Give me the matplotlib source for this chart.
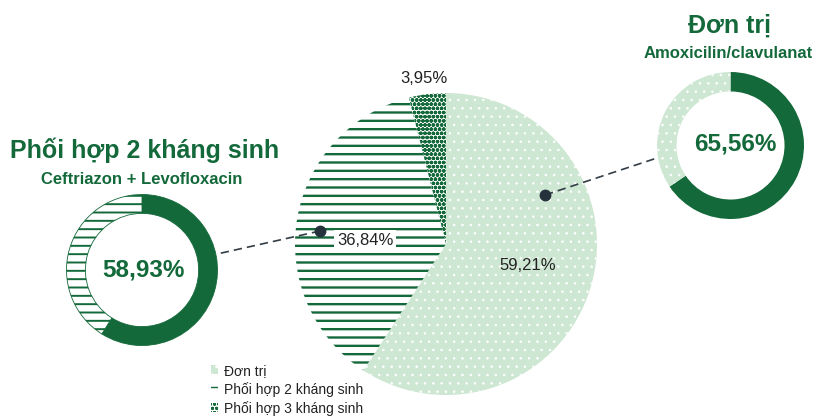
import matplotlib
matplotlib.use("Agg")
import matplotlib.pyplot as plt

plt.rcParams['font.family'] = ['Liberation Sans', 'DejaVu Sans']

# ---- data ----
categories = ["Đơn trị", "Phối hợp 2 kháng sinh", "Phối hợp 3 kháng sinh"]
shares = [59.21, 36.84, 3.95]
left_title = "Phối hợp 2 kháng sinh"
left_sub = "Ceftriazon + Levofloxacin"
left_value = 58.93
right_title = "Đơn trị"
right_sub = "Amoxicilin/clavulanat"
right_value = 65.56

DARK = "#13693A"
LIGHT = "#CDE7D3"
DOT = "#25313B"

W, H = 818, 417
fig = plt.figure(figsize=(W / 100, H / 100), dpi=100)


def axes_px(cx, cy, r):
    return fig.add_axes([(cx - r) / W, (H - cy - r) / H, 2 * r / W, 2 * r / H])


def fmt(v):
    return f"{v:.2f}".replace(".", ",") + "%"


def set_hlw(p, lw):
    if hasattr(p, "set_hatch_linewidth"):
        p.set_hatch_linewidth(lw)


# main pie
ax = axes_px(446, 244, 151)
wedges, _ = ax.pie(shares, startangle=90, counterclock=False, radius=1,
                   wedgeprops=dict(linewidth=0))
styles = [
    dict(fc=LIGHT, ec="white", hatch="..", hlw=0.6),
    dict(fc="white", ec=DARK, hatch="--", hlw=1.7),
    dict(fc="white", ec=DARK, hatch="oooo", hlw=1.3),
]
for w, s in zip(wedges, styles):
    w.set_facecolor(s["fc"])
    w.set_edgecolor(s["ec"])
    w.set_hatch(s["hatch"])
    w.set_linewidth(0)
    set_hlw(w, s["hlw"])
ax.set_xlim(-1, 1); ax.set_ylim(-1, 1); ax.set_aspect("equal"); ax.axis("off")

# left donut
axl = axes_px(142, 270, 75.5)
wl, _ = axl.pie([left_value, 100 - left_value], startangle=90, counterclock=False,
                radius=1, wedgeprops=dict(width=0.25, linewidth=0.6))
wl[0].set_facecolor(DARK); wl[0].set_edgecolor(DARK)
wl[1].set_facecolor("white"); wl[1].set_edgecolor(DARK); wl[1].set_hatch("--")
set_hlw(wl[1], 1.4)
axl.set_xlim(-1, 1); axl.set_ylim(-1, 1); axl.set_aspect("equal"); axl.axis("off")

# right donut
axr = axes_px(730.5, 145.5, 73.5)
wr, _ = axr.pie([right_value, 100 - right_value], startangle=90, counterclock=False,
                radius=1, wedgeprops=dict(width=0.265, linewidth=0))
wr[0].set_facecolor(DARK); wr[0].set_edgecolor(DARK)
wr[1].set_facecolor(LIGHT); wr[1].set_edgecolor("white"); wr[1].set_hatch("..")
set_hlw(wr[1], 0.6)
axr.set_xlim(-1, 1); axr.set_ylim(-1, 1); axr.set_aspect("equal"); axr.axis("off")

# overlay for annotations (pixel coordinates)
ov = fig.add_axes([0, 0, 1, 1], facecolor="none")
ov.set_xlim(0, W); ov.set_ylim(H, 0); ov.axis("off")

ov.text(145, 158, left_title, ha="center", va="baseline", fontsize=18,
        fontweight="bold", color=DARK)
ov.text(142, 184, left_sub, ha="center", va="baseline", fontsize=12,
        fontweight="bold", color=DARK)
ov.text(729, 33, right_title, ha="center", va="baseline", fontsize=18,
        fontweight="bold", color=DARK)
ov.text(728, 58, right_sub, ha="center", va="baseline", fontsize=12,
        fontweight="bold", color=DARK)

ov.text(143, 270, fmt(left_value), ha="center", va="center", fontsize=17.5,
        fontweight="bold", color=DARK)
ov.text(735, 144, fmt(right_value), ha="center", va="center", fontsize=17.5,
        fontweight="bold", color=DARK)

ov.text(528, 265, fmt(shares[0]), ha="center", va="center", fontsize=12, color="#222222")
ov.text(365, 240, fmt(shares[1]), ha="center", va="center", fontsize=12, color="#222222",
        bbox=dict(boxstyle="square,pad=0.15", fc="white", ec="none"))
ov.text(424, 78, fmt(shares[2]), ha="center", va="center", fontsize=12, color="#222222")

# connectors
ov.plot([545, 657], [195, 158], ls=(0, (5, 3)), color="#333D45", lw=1.2)
ov.plot([320, 217], [231, 254], ls=(0, (5, 3)), color="#333D45", lw=1.2)
ov.plot([545, 320], [195, 231], ls="none", marker="o", ms=7.5, color=DOT)

# legend
leg = fig.legend(wedges, categories, loc="upper left",
                 bbox_to_anchor=(205 / W, 1 - 358 / H), frameon=False,
                 fontsize=10, handlelength=0.55, handleheight=0.55,
                 handletextpad=0.4, labelspacing=0.3, borderaxespad=0)
for t in leg.get_texts():
    t.set_color("#222222")

fig.savefig("out.png", dpi=100)
